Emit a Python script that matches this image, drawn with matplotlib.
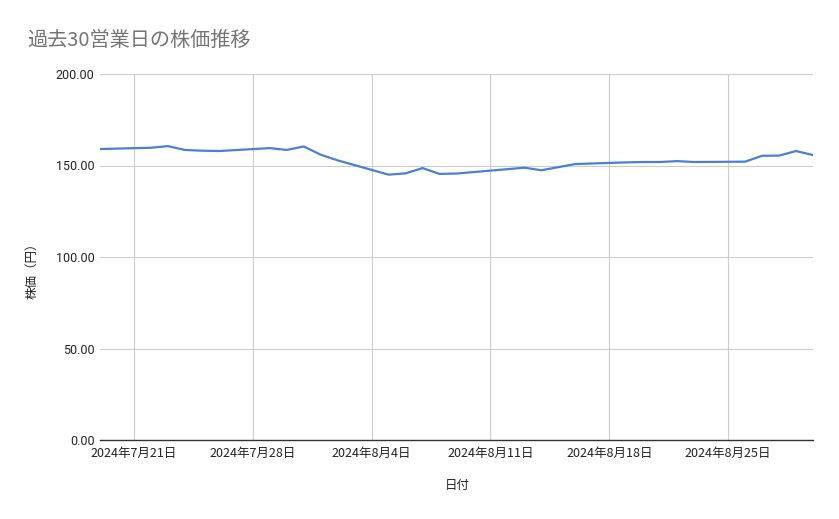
import matplotlib
matplotlib.use("Agg")
from matplotlib import pyplot as plt
import matplotlib.dates as mdates
from matplotlib.ticker import FuncFormatter
import pandas as pd

plt.rcParams['font.family'] = ['Noto Sans CJK JP', 'DejaVu Sans']

dates = ["2024-07-19", "2024-07-22", "2024-07-23", "2024-07-24", "2024-07-25",
         "2024-07-26", "2024-07-29", "2024-07-30", "2024-07-31", "2024-08-01",
         "2024-08-02", "2024-08-05", "2024-08-06", "2024-08-07", "2024-08-08",
         "2024-08-09", "2024-08-13", "2024-08-14", "2024-08-15", "2024-08-16",
         "2024-08-19", "2024-08-20", "2024-08-21", "2024-08-22", "2024-08-23",
         "2024-08-26", "2024-08-27", "2024-08-28", "2024-08-29", "2024-08-30"]
prices = [159.0, 159.7, 160.6, 158.5, 158.1,
          157.9, 159.5, 158.5, 160.4, 155.9,
          152.8, 145.0, 145.7, 148.6, 145.4,
          145.6, 148.8, 147.4, 149.1, 150.8,
          151.7, 151.9, 151.9, 152.4, 151.9,
          152.1, 155.3, 155.4, 157.9, 155.7]
x_ticks = ["2024-07-21", "2024-07-28", "2024-08-04", "2024-08-11", "2024-08-18", "2024-08-25"]
y_ticks = [0, 50, 100, 150, 200]

d = pd.to_datetime(dates)
xt = pd.to_datetime(x_ticks)

fig = plt.figure(figsize=(8.39, 5.19), dpi=100)
ax = fig.add_axes([100 / 839, 1 - 440 / 519, 713 / 839, 366 / 519])

ax.plot(d, prices, color='#4a7fdc', linewidth=1.6, solid_joinstyle='round')

ax.set_xlim(d[0], d[-1])
ax.set_ylim(0, 200)
ax.set_yticks(y_ticks)
ax.yaxis.set_major_formatter(FuncFormatter(lambda v, p: f"{v:.2f}"))
ax.set_xticks(xt)
ax.set_xticklabels([f"{t.year}年{t.month}月{t.day}日" for t in xt])

ax.grid(True, color='#cccccc', linewidth=0.8)
ax.set_axisbelow(True)
for s in ['top', 'right', 'left']:
    ax.spines[s].set_visible(False)
ax.spines['bottom'].set_color('#333333')
ax.spines['bottom'].set_linewidth(1.0)
ax.tick_params(axis='both', length=0, colors='#222222', labelsize=9)
ax.tick_params(axis='y', pad=4)
ax.tick_params(axis='x', pad=5)
for lab in ax.get_yticklabels():
    lab.set_family(['Roboto', 'DejaVu Sans'])

# 軸ラベル
fig.text(457 / 839, 1 - 486 / 519, "日付", fontsize=9, color='#222222',
         ha='center', va='center')
fig.text(32 / 839, 1 - 268 / 519, "株価（円）", fontsize=9, color='#222222',
         rotation=90, ha='center', va='center')

fig.text(27 / 839, 1 - 40 / 519, "過去30営業日の株価推移", fontsize=14.5,
         color='#757575', va='center', ha='left')

fig.savefig("out.png", dpi=100, facecolor='white')
